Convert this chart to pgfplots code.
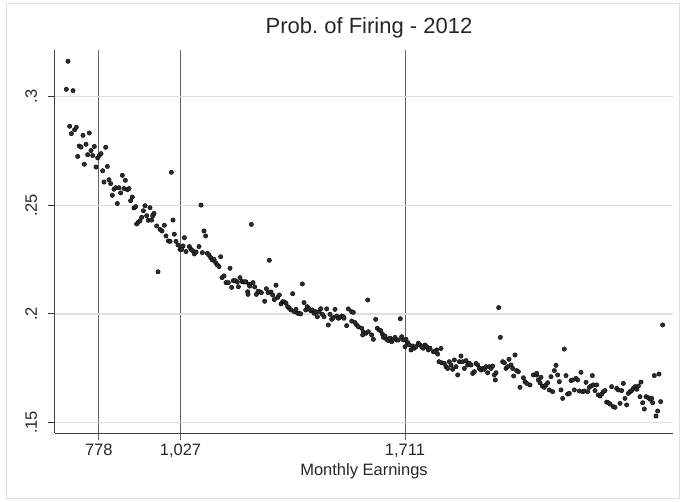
\documentclass[border=0pt]{standalone}
\usepackage{pgfplots}
\pgfplotsset{compat=1.18}
\usepackage{pgfplotstable}
\usepackage{fontspec}
\setmainfont{Liberation Sans}
\frenchspacing
\pgfplotstableread{
x y
684.1 0.3163
679.0 0.3034
699.4 0.3028
689.2 0.2864
694.3 0.2830
704.4 0.2848
709.5 0.2859
729.8 0.2822
749.1 0.2833
718.6 0.2773
723.7 0.2768
739.0 0.2781
754.2 0.2752
764.4 0.2771
744.0 0.2733
759.3 0.2729
713.6 0.2725
733.9 0.2689
774.5 0.2718
779.6 0.2729
784.7 0.2738
769.4 0.2676
798.9 0.2767
789.7 0.2659
804.0 0.2679
793.8 0.2607
809.0 0.2618
814.1 0.2600
849.7 0.2638
858.8 0.2615
824.3 0.2574
829.4 0.2581
839.5 0.2581
819.2 0.2546
844.6 0.2557
854.7 0.2577
864.9 0.2572
870.0 0.2577
834.4 0.2508
880.1 0.2538
875.0 0.2521
885.2 0.2488
890.3 0.2494
918.7 0.2498
934.0 0.2489
913.7 0.2475
923.8 0.2452
893.3 0.2414
898.4 0.2422
903.5 0.2429
908.6 0.2445
928.9 0.2431
939.0 0.2432
944.1 0.2457
999.0 0.2652
946.2 0.2463
942.1 0.2451
954.3 0.2405
964.5 0.2389
970.6 0.2382
977.7 0.2408
1004.0 0.2432
982.8 0.2359
990.0 0.2336
995.0 0.2334
1008.0 0.2367
1013.0 0.2334
1019.3 0.2317
1025.4 0.2297
1030.5 0.2297
1038.6 0.2351
1034.6 0.2313
1043.7 0.2287
1053.9 0.2310
1058.9 0.2297
1064.0 0.2291
1069.1 0.2276
1074.2 0.2285
1083.3 0.2310
1089.4 0.2501
1093.5 0.2282
1098.5 0.2382
1103.6 0.2359
1108.7 0.2279
1113.8 0.2271
1118.9 0.2259
1124.0 0.2248
1129.0 0.2251
1134.1 0.2236
1139.2 0.2225
1144.2 0.2218
1149.3 0.2263
958.4 0.2194
1153.4 0.2167
1159.5 0.2175
1165.6 0.2144
1172.7 0.2144
1177.8 0.2210
1182.8 0.2122
1187.9 0.2153
1194.0 0.2153
1200.1 0.2147
1203.2 0.2125
1208.2 0.2167
1214.3 0.2149
1220.4 0.2147
1226.5 0.2147
1231.6 0.2102
1236.7 0.2136
1242.8 0.2412
1297.6 0.2247
1223.5 0.2148
1237.7 0.2128
1247.9 0.2144
1253.0 0.2124
1232.6 0.2090
1258.0 0.2090
1263.1 0.2104
1268.2 0.2102
1273.3 0.2098
1288.5 0.2116
1293.6 0.2098
1302.7 0.2101
1283.4 0.2058
1307.8 0.2087
1318.0 0.2132
1312.9 0.2066
1323.0 0.2076
1328.1 0.2087
1333.2 0.2046
1338.3 0.2056
1343.4 0.2055
1348.4 0.2049
1353.5 0.2033
1358.6 0.2026
1363.7 0.2018
1368.7 0.2093
1373.8 0.2010
1378.9 0.2021
1384.0 0.2003
1389.1 0.2003
1393.1 0.2000
1398.2 0.2138
1403.3 0.2052
1408.4 0.2018
1413.4 0.2033
1418.5 0.2024
1423.6 0.2015
1428.7 0.2018
1433.8 0.2003
1438.8 0.2010
1443.9 0.1987
1449.0 0.2010
1454.1 0.2024
1459.1 0.1998
1464.2 0.1987
1472.3 0.2023
1477.4 0.1949
1482.5 0.1998
1487.6 0.1975
1492.7 0.1983
1497.7 0.2021
1502.8 0.1990
1507.9 0.1980
1513.0 0.1984
1518.0 0.1990
1523.1 0.1987
1597.2 0.2064
1696.7 0.1978
1621.6 0.1975
1538.3 0.2023
1548.5 0.2010
1553.5 0.2007
1525.1 0.1980
1533.2 0.1946
1548.5 0.1967
1558.6 0.1960
1563.7 0.1949
1568.8 0.1941
1578.9 0.1934
1584.0 0.1918
1592.1 0.1911
1599.2 0.1918
1609.4 0.1903
1614.5 0.1883
1582.0 0.1903
1626.7 0.1934
1632.8 0.1926
1636.8 0.1923
1641.9 0.1908
1645.0 0.1892
1650.0 0.1898
1655.1 0.1883
1660.2 0.1877
1665.3 0.1888
1670.3 0.1872
1675.4 0.1883
1680.5 0.1892
1685.6 0.1880
1690.6 0.1880
1700.8 0.1895
1705.9 0.1880
1711.0 0.1849
1714.0 0.1883
1719.1 0.1868
1724.2 0.1857
1729.2 0.1834
1734.3 0.1852
1739.4 0.1842
1744.5 0.1849
1751.6 0.1865
1756.7 0.1857
1761.7 0.1849
1766.8 0.1842
1771.9 0.1857
1777.0 0.1849
1782.1 0.1834
1787.1 0.1842
1797.3 0.1826
1807.5 0.1834
1996.4 0.2029
2001.5 0.1892
1802.4 0.1826
1810.5 0.1815
1820.7 0.1841
1814.6 0.1780
1822.7 0.1775
1830.8 0.1772
1835.9 0.1757
1841.0 0.1749
1846.1 0.1780
1851.2 0.1765
1856.2 0.1745
1861.3 0.1788
1866.4 0.1757
1871.5 0.1719
1876.5 0.1780
1881.6 0.1806
1886.7 0.1780
1891.8 0.1749
1896.9 0.1785
1901.9 0.1765
1907.0 0.1772
1912.1 0.1765
1917.2 0.1726
1922.3 0.1734
1927.3 0.1772
1932.4 0.1765
1937.5 0.1749
1942.6 0.1742
1947.6 0.1749
1952.7 0.1745
1957.8 0.1757
1962.9 0.1729
1968.0 0.1757
1973.0 0.1749
1978.1 0.1760
1983.2 0.1719
1988.3 0.1729
1986.2 0.1696
2008.6 0.1780
2013.7 0.1775
2018.7 0.1749
2023.8 0.1757
2027.9 0.1791
2034.0 0.1765
2039.1 0.1749
2042.1 0.1714
2046.2 0.1811
2051.2 0.1739
2056.3 0.1734
2071.6 0.1706
2076.6 0.1688
2081.7 0.1680
2061.4 0.1662
2091.9 0.1673
2102.0 0.1719
2112.2 0.1719
2117.3 0.1696
2196.5 0.1838
2112.2 0.1726
2125.4 0.1708
2122.3 0.1683
2129.4 0.1668
2135.5 0.1662
2140.6 0.1673
2145.7 0.1683
2150.8 0.1650
2155.9 0.1711
2160.9 0.1642
2166.0 0.1739
2171.1 0.1763
2176.2 0.1719
2181.2 0.1688
2186.3 0.1650
2191.4 0.1611
2201.6 0.1716
2206.6 0.1631
2211.7 0.1634
2216.8 0.1693
2221.9 0.1696
2227.0 0.1650
2232.0 0.1703
2237.1 0.1696
2242.2 0.1645
2247.3 0.1731
2252.3 0.1642
2257.4 0.1645
2262.5 0.1685
2267.6 0.1642
2272.7 0.1662
2277.7 0.1668
2281.8 0.1716
2284.9 0.1673
2289.9 0.1647
2295.0 0.1673
2300.1 0.1627
2305.2 0.1622
2310.2 0.1631
2315.3 0.1642
2320.4 0.1647
2325.5 0.1594
2330.6 0.1591
2335.6 0.1585
2340.7 0.1665
2345.8 0.1573
2350.9 0.1570
2356.0 0.1657
2361.0 0.1650
2366.1 0.1588
2371.2 0.1647
2376.3 0.1680
2381.3 0.1611
2386.4 0.1581
2391.5 0.1634
2396.6 0.1642
2401.7 0.1647
2406.7 0.1657
2411.8 0.1665
2416.9 0.1653
2422.0 0.1668
2427.0 0.1619
2430.1 0.1686
2435.2 0.1591
2440.3 0.1562
2445.3 0.1619
2452.4 0.1614
2457.5 0.1607
2462.6 0.1611
2465.6 0.1591
2470.7 0.1716
2475.8 0.1530
2480.9 0.1553
2485.0 0.1723
2490.0 0.1596
2496.0 0.1949
}\datatable
\begin{document}
\begin{tikzpicture}
\path (-55pt,-68pt) rectangle (630pt,433pt);
\draw[black!12, line width=0.8pt] (-49pt,-65pt) rectangle (624pt,430pt);
\begin{axis}[
  scale only axis,
  width=618pt, height=383pt,
  xmin=644.5, xmax=2527.6,
  ymin=0.14517, ymax=0.3215,
  axis x line*=bottom, axis y line*=left,
  axis line style={black!75, line width=1pt},
  xtick={778,1027,1711},
  xticklabels={778,{1,027},{1,711}},
  ytick={0.15,0.2,0.25,0.3},
  yticklabels={.15,.2,.25,.3},
  tick align=outside,
  major tick length=7pt,
  xtick style={black!62, line width=0.9pt},
  ytick style={black!80, line width=1.1pt},
  xmajorgrids, ymajorgrids,
  major x grid style={black!62, line width=0.9pt},
  major y grid style={black!13, line width=1.2pt},
  tick label style={font=\fontsize{16.5}{19}\selectfont, text=black!85},
  xticklabel style={anchor=base, yshift=-15pt},
  yticklabel style={xshift=-11pt, rotate=90, anchor=base},
  xlabel={Monthly Earnings},
  xlabel style={at={(axis description cs:0.5,0)}, anchor=base, yshift=-42pt, font=\fontsize{16.5}{19}\selectfont, text=black!85},
  title={Prob. of Firing - 2012},
  title style={at={(axis description cs:0.508,1)}, anchor=base, yshift=10pt, font=\fontsize{22}{26}\selectfont, text=black!85},
  clip=false,
]
\addplot[only marks, mark=*, mark size=2.2pt, mark options={fill=black!82, draw=none}] table[x=x,y=y] {\datatable};
\end{axis}
\end{tikzpicture}
\end{document}
